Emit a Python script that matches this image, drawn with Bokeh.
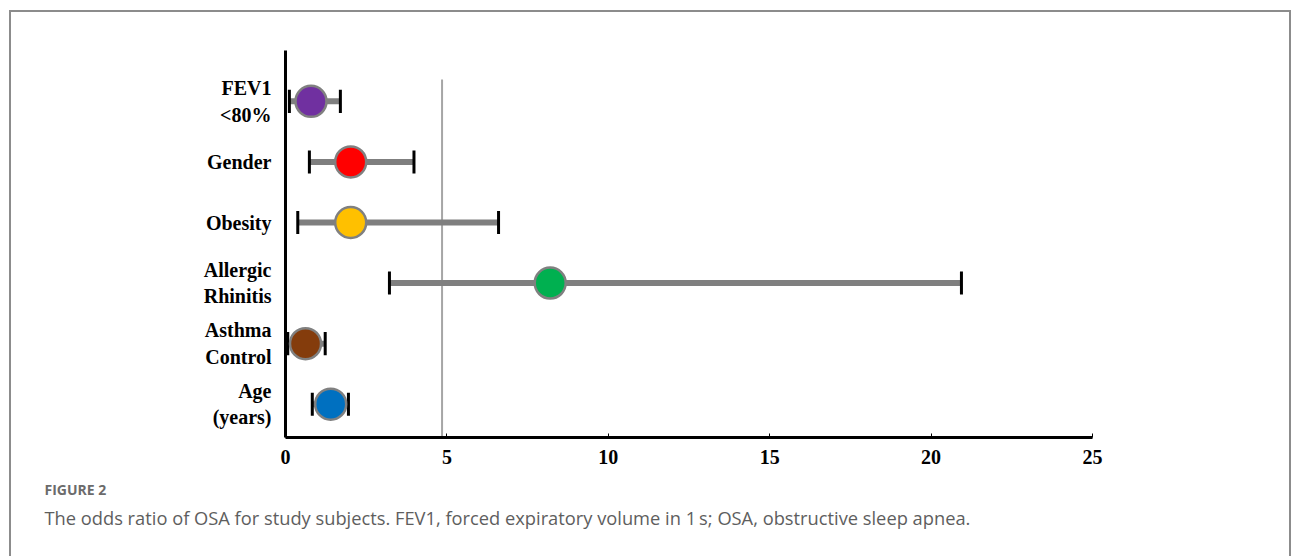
from bokeh.plotting import figure
from bokeh.models import (ColumnDataSource, FixedTicker, Title, Range1d)
from bokeh.embed import file_html
from bokeh.resources import INLINE

# ---- data ----
categories = ["FEV1\n<80%", "Gender", "Obesity", "Allergic\nRhinitis", "Asthma\nControl", "Age\n(years)"]
odds_ratio = [0.79, 2.02, 2.02, 8.20, 0.62, 1.40]
ci_lower = [0.12, 0.74, 0.38, 3.22, 0.07, 0.83]
ci_upper = [1.70, 3.98, 6.60, 20.94, 1.23, 1.95]
point_colors = ["#7030A0", "#FF0000", "#FFC000", "#00B050", "#843C0C", "#0070C0"]
x_ticks = [0, 5, 10, 15, 20, 25]
ref_line_x = 4.85
caption_head = "FIGURE 2"
caption_text = ("The odds ratio of OSA for study subjects. FEV1, forced expiratory volume in 1\u2009s; "
                "OSA, obstructive sleep apnea.")

n = len(categories)
ypos = [n - 1 - i for i in range(n)]
cap_h = 0.19

src = ColumnDataSource(dict(
    y=ypos, odds=odds_ratio, lo=ci_lower, hi=ci_upper, color=point_colors,
    y0=[v - cap_h for v in ypos], y1=[v + cap_h for v in ypos],
))

W, H = 1282, 546
p = figure(width=W, height=H, output_backend="svg", toolbar_location=None,
           x_range=Range1d(0, 25), y_range=Range1d(-0.55, n - 0.16),
           min_border_left=274, min_border_right=201, min_border_top=38, min_border_bottom=121)
p.styles = {"margin-left": "9px", "margin-top": "10px",
            "border-left": "2px solid #8C8C8C", "border-top": "2px solid #8C8C8C",
            "border-right": "2px solid #8C8C8C"}
p.outline_line_color = None
p.xgrid.grid_line_color = None
p.ygrid.grid_line_color = None
p.background_fill_color = "white"
p.border_fill_color = "white"

# reference line
p.segment(x0=[ref_line_x], y0=[-0.55], x1=[ref_line_x], y1=[n - 1 + 0.36],
          line_color="#A6A6A6", line_width=2)

# CI bars
p.segment(x0="lo", y0="y", x1="hi", y1="y", source=src, line_color="#7F7F7F", line_width=6)
p.segment(x0="lo", y0="y0", x1="lo", y1="y1", source=src, line_color="black", line_width=3)
p.segment(x0="hi", y0="y0", x1="hi", y1="y1", source=src, line_color="black", line_width=3)
# points
p.scatter(x="odds", y="y", source=src, size=31, fill_color="color",
          line_color="#808080", line_width=2.5)

# axes
xa = p.xaxis[0]
xa.ticker = FixedTicker(ticks=x_ticks)
xa.axis_line_width = 3
xa.axis_line_color = "black"
xa.major_tick_in = 4
xa.major_tick_out = 0
xa.major_tick_line_color = "black"
xa.minor_tick_line_color = None
xa.major_label_standoff = 12
xa.major_label_text_font = "Liberation Serif"
xa.major_label_text_font_style = "bold"
xa.major_label_text_font_size = "20px"
xa.major_label_text_color = "black"

ya = p.yaxis[0]
ya.ticker = FixedTicker(ticks=ypos)
ya.major_label_overrides = {ypos[i]: categories[i] for i in range(n)}
ya.axis_line_width = 3
ya.axis_line_color = "black"
ya.major_tick_in = 0
ya.major_tick_out = 0
ya.minor_tick_line_color = None
ya.major_label_standoff = 14
ya.major_label_text_font = "Liberation Serif"
ya.major_label_text_font_style = "bold"
ya.major_label_text_font_size = "20px"
ya.major_label_text_color = "black"
ya.major_label_text_align = "right"

# caption
p.add_layout(Title(text=caption_head, align="left", offset=-241, standoff=22,
                   text_font="Open Sans", text_font_style="bold", text_font_size="14px",
                   text_color="#6B6B6B"), "below")
p.add_layout(Title(text=caption_text, align="left", offset=-241, standoff=-13,
                   text_font="Open Sans", text_font_style="normal", text_font_size="18.3px",
                   text_color="#5E5E5E"), "below")

open("out.html", "w").write(file_html(p, INLINE))
